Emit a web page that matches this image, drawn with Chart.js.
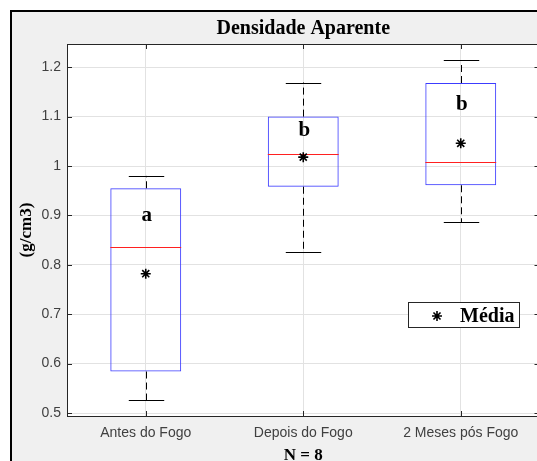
<!DOCTYPE html>
<html>
<head>
<meta charset="utf-8">
<script src="https://cdn.jsdelivr.net/npm/chart.js@4.4.1/dist/chart.umd.min.js"></script>
<style>
    html, body { margin: 0; padding: 0; width: 537px; height: 461px; overflow: hidden; background: #fff; }
    #frame { position: absolute; left: 10px; top: 10px; width: 600px; height: 500px; background: #f0f0f0;
             border-left: 2px solid #000; border-top: 2px solid #000; }
    #wrap { position: absolute; left: 0; top: 0; width: 560px; height: 461px; }
</style>
</head>
<body>
<div id="frame"></div>
<div id="wrap"><canvas id="chart" width="560" height="461"></canvas></div>
<script>
// values
const categories = ['Antes do Fogo', 'Depois do Fogo', '2 Meses pós Fogo'];
const whiskerLow = [0.526, 0.826, 0.886];
const q1 = [0.584, 0.958, 0.961];
const medians = [0.836, 1.024, 1.008];
const q3 = [0.955, 1.100, 1.168];
const whiskerHigh = [0.980, 1.169, 1.214];
const means = [0.782, 1.018, 1.046];
const groupLetters = ['a', 'b', 'b'];
const letterBase = [0.888, 1.060, 1.114];
const yTicks = [0.5, 0.6, 0.7, 0.8, 0.9, 1.0, 1.1, 1.2];
const yMin = 0.494;
const yMax = 1.247;

const serif = '"Liberation Serif", "Times New Roman", serif';
const sans = '"Liberation Sans", Arial, sans-serif';
const axisColor = '#262626';

const boxPlotPlugin = {
    id: 'boxPlot',
    beforeDraw(chart) {
        const { ctx, chartArea: a } = chart;
        ctx.save();
        ctx.fillStyle = '#ffffff';
        ctx.fillRect(a.left, a.top, a.right - a.left, a.bottom - a.top);
        ctx.restore();
    },
    afterDatasetDraw(chart, args) {
        if (args.meta.type !== 'bar') return;
        const { ctx } = chart;
        const y = chart.scales.y;
        ctx.save();
        args.meta.data.forEach((bar, i) => {
            const x = Math.round(bar.x) + 0.5;
            const half = bar.width / 2;
            const cap = bar.width / 4;
            // whiskers
            ctx.strokeStyle = '#000';
            ctx.lineWidth = 1;
            ctx.setLineDash([7, 4]);
            ctx.beginPath();
            ctx.moveTo(x, y.getPixelForValue(q3[i]));
            ctx.lineTo(x, y.getPixelForValue(whiskerHigh[i]));
            ctx.moveTo(x, y.getPixelForValue(q1[i]));
            ctx.lineTo(x, y.getPixelForValue(whiskerLow[i]));
            ctx.stroke();
            ctx.setLineDash([]);
            ctx.beginPath();
            const yh = Math.round(y.getPixelForValue(whiskerHigh[i])) + 0.5;
            const yl = Math.round(y.getPixelForValue(whiskerLow[i])) + 0.5;
            ctx.moveTo(x - cap, yh);
            ctx.lineTo(x + cap, yh);
            ctx.moveTo(x - cap, yl);
            ctx.lineTo(x + cap, yl);
            ctx.stroke();
            // median
            const ym = Math.round(y.getPixelForValue(medians[i])) + 0.5;
            ctx.strokeStyle = '#ff2020';
            ctx.beginPath();
            ctx.moveTo(bar.x - half, ym);
            ctx.lineTo(bar.x + half, ym);
            ctx.stroke();
        });
        ctx.restore();
    },
    afterDraw(chart) {
        const { ctx, chartArea: a } = chart;
        const x = chart.scales.x;
        const y = chart.scales.y;
        ctx.save();
        // axes box and inner ticks
        ctx.strokeStyle = axisColor;
        ctx.lineWidth = 1;
        ctx.strokeRect(Math.round(a.left) + 0.5, Math.round(a.top) + 0.5,
            Math.round(a.right - a.left), Math.round(a.bottom - a.top));
        ctx.beginPath();
        yTicks.forEach(v => {
            const py = Math.round(y.getPixelForValue(v)) + 0.5;
            ctx.moveTo(a.left, py); ctx.lineTo(a.left + 5, py);
            ctx.moveTo(a.right - 5, py); ctx.lineTo(a.right, py);
        });
        categories.forEach((c, i) => {
            const px = Math.round(x.getPixelForValue(i)) + 0.5;
            ctx.moveTo(px, a.bottom); ctx.lineTo(px, a.bottom - 5);
            ctx.moveTo(px, a.top); ctx.lineTo(px, a.top + 5);
        });
        ctx.stroke();

        // group letters
        ctx.fillStyle = '#000';
        ctx.textAlign = 'center';
        ctx.textBaseline = 'alphabetic';
        ctx.font = 'bold 21px ' + serif;
        groupLetters.forEach((t, i) => {
            ctx.fillText(t, x.getPixelForValue(i) + 1, y.getPixelForValue(letterBase[i]));
        });

        // titles
        const cx = (a.left + a.right) / 2;
        ctx.font = 'bold 20px ' + serif;
        ctx.fillText('Densidade Aparente', cx, 34);
        ctx.font = 'bold 17px ' + serif;
        ctx.fillText('N = 8', cx, 460);
        ctx.save();
        ctx.translate(31, (a.top + a.bottom) / 2);
        ctx.rotate(-Math.PI / 2);
        ctx.font = 'bold 17px ' + serif;
        ctx.fillText('(g/cm3)', 0, 0);
        ctx.restore();

        // legend
        ctx.fillStyle = '#fff';
        ctx.fillRect(408, 302, 112, 26);
        ctx.strokeStyle = axisColor;
        ctx.strokeRect(408.5, 302.5, 111, 25);
        const star = chart.getDatasetMeta(1).data[0];
        ctx.strokeStyle = '#000';
        ctx.fillStyle = '#000';
        ctx.lineWidth = star.options.borderWidth;
        Chart.helpers.drawPoint(ctx, star.options, 437, 316);
        ctx.textAlign = 'left';
        ctx.font = 'bold 20px ' + serif;
        ctx.fillText('Média', 460, 322);
        ctx.restore();
    }
};

new Chart(document.getElementById('chart'), {
    type: 'bar',
    data: {
        labels: categories,
        datasets: [
            {
                type: 'bar',
                label: 'Caixa',
                data: categories.map((c, i) => [q1[i], q3[i]]),
                backgroundColor: 'rgba(0,0,0,0)',
                borderColor: '#3c3cff',
                borderWidth: 1,
                borderSkipped: false,
                barPercentage: 0.45,
                categoryPercentage: 1,
                order: 2
            },
            {
                type: 'line',
                label: 'Média',
                data: means,
                showLine: false,
                pointStyle: 'star',
                pointRadius: 5,
                pointBorderColor: '#000',
                pointBackgroundColor: '#000',
                pointBorderWidth: 1.6,
                order: 1
            }
        ]
    },
    options: {
        responsive: false,
        animation: false,
        layout: { padding: { left: 0, top: 44, right: 20.5, bottom: 0 } },
        plugins: {
            legend: { display: false },
            tooltip: { enabled: false },
            title: { display: false }
        },
        scales: {
            x: {
                offset: true,
                grid: { offset: false, color: '#e2e2e2', drawTicks: false },
                border: { display: false },
                ticks: { color: '#404040', font: { family: sans, size: 14 }, padding: 9, maxRotation: 0 },
                afterFit: s => { s.height = 45; }
            },
            y: {
                min: yMin,
                max: yMax,
                afterBuildTicks: s => { s.ticks = yTicks.map(v => ({ value: v })); },
                grid: { color: '#e2e2e2', drawTicks: false },
                border: { display: false },
                ticks: {
                    color: '#404040',
                    font: { family: sans, size: 14 },
                    padding: 6,
                    callback: v => String(Math.round(v * 10) / 10)
                },
                afterFit: s => { s.width = 67; }
            }
        }
    },
    plugins: [boxPlotPlugin]
});
</script>
</body>
</html>
